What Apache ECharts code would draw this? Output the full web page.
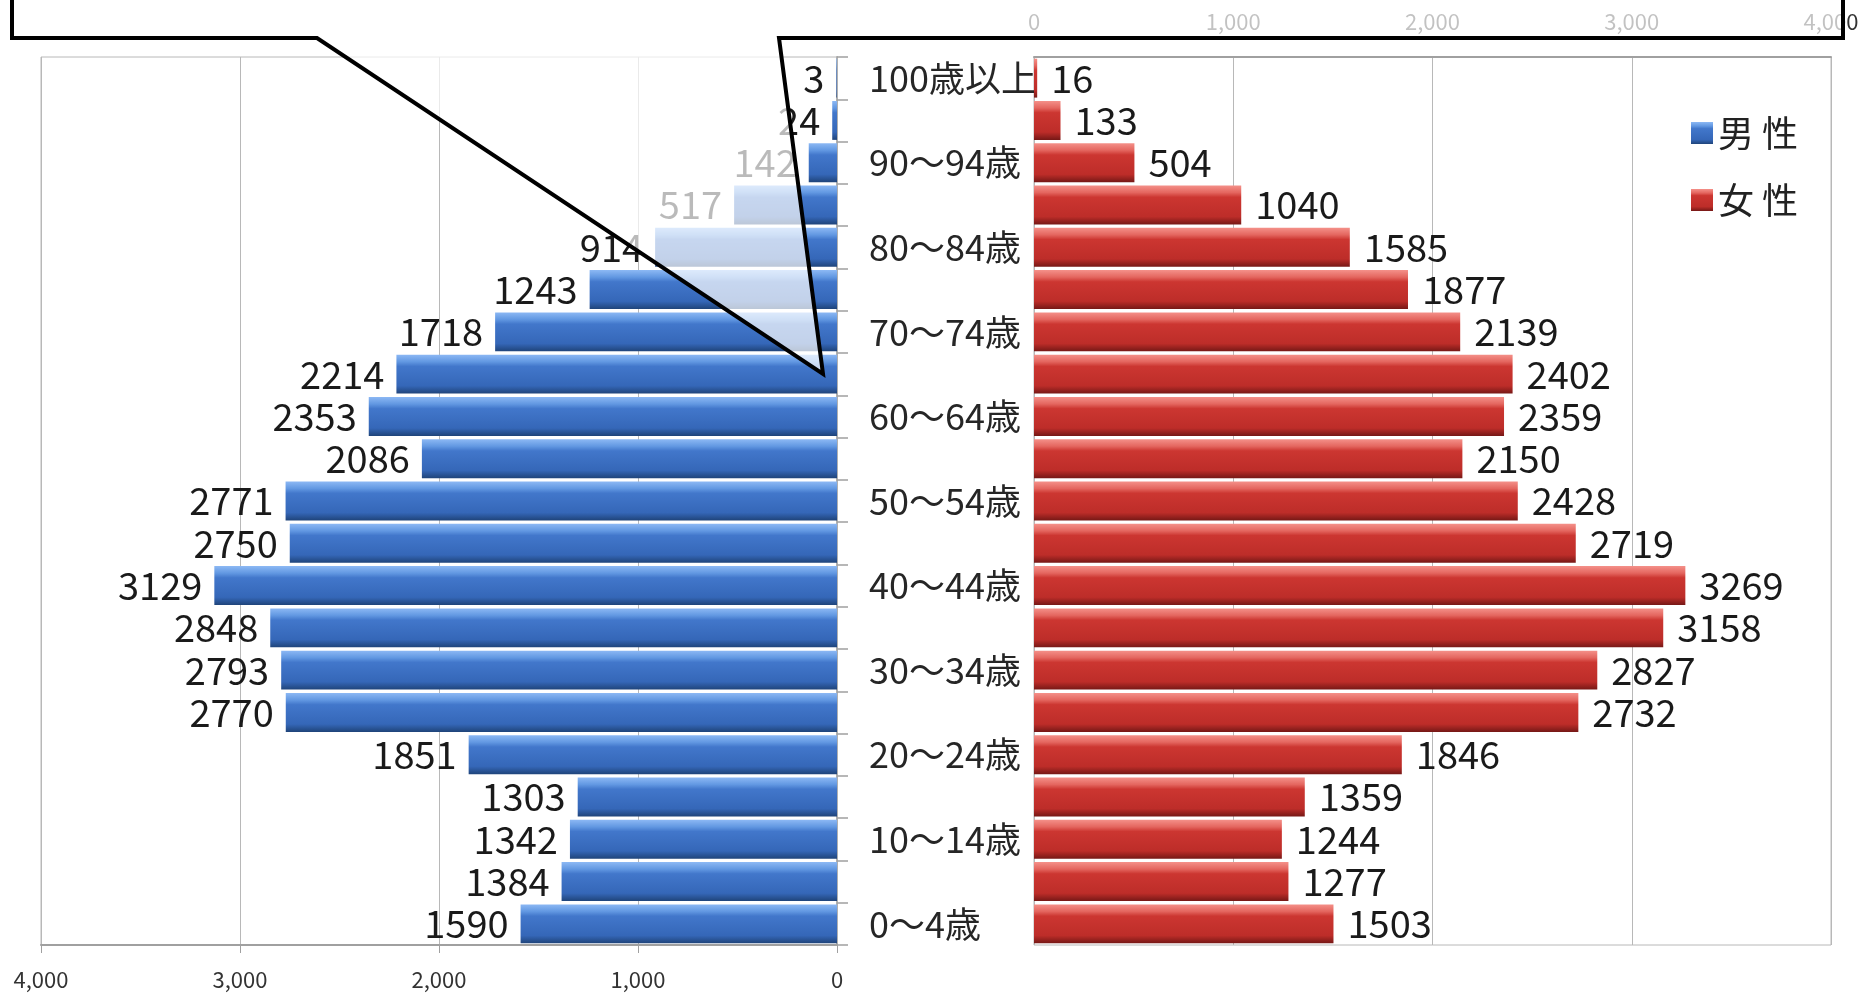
<!DOCTYPE html>
<html>
<head>
<meta charset="utf-8">
<script src="https://cdn.jsdelivr.net/npm/echarts@6/dist/echarts.min.js"></script>
<style>
html,body{margin:0;padding:0;background:#fff;}
#chart{width:1864px;height:993px;}
</style>
</head>
<body>
<div id="chart"></div>
<script>
const categories = ['0～4歳','5～9歳','10～14歳','15～19歳','20～24歳','25～29歳','30～34歳','35～39歳','40～44歳','45～49歳','50～54歳','55～59歳','60～64歳','65～69歳','70～74歳','75～79歳','80～84歳','85～89歳','90～94歳','95～99歳','100歳以上'];
const maleValues = [1590,1384,1342,1303,1851,2770,2793,2848,3129,2750,2771,2086,2353,2214,1718,1243,914,517,142,24,3];
const femaleValues = [1503,1277,1244,1359,1846,2732,2827,3158,3269,2719,2428,2150,2359,2402,2139,1877,1585,1040,504,133,16];
const axisMin = 0, axisMax = 4000, axisStep = 1000;

const FONT = "'Noto Sans CJK JP','Noto Sans',sans-serif";
const chart = echarts.init(document.getElementById('chart'));

const blueGrad = new echarts.graphic.LinearGradient(0,0,0,1,[
  {offset:0,color:'#8cb8f4'},{offset:0.18,color:'#6298e2'},{offset:0.3,color:'#4277cb'},
  {offset:0.8,color:'#3567b8'},{offset:1,color:'#1f447a'}]);
const redGrad = new echarts.graphic.LinearGradient(0,0,0,1,[
  {offset:0,color:'#f49089'},{offset:0.18,color:'#e4665f'},{offset:0.3,color:'#cc3631'},
  {offset:0.8,color:'#bd2d29'},{offset:1,color:'#761816'}]);

const fmt = v => v.toLocaleString('en-US');

chart.setOption({
  animation:false,
  backgroundColor:'#fff',
  textStyle:{fontFamily:FONT},
  legend:{
    orient:'vertical', left:1686, top:110, itemGap:31,
    icon:'rect', itemWidth:22, itemHeight:22,
    data:['男性','女性'],
    formatter: n => n.split('').join(' '),
    textStyle:{fontSize:36, lineHeight:36, color:'#222', fontFamily:FONT}
  },
  grid:[
    {left:41, right:1027, top:57, bottom:48, show:true, borderColor:'#b8b8b8', borderWidth:1},
    {left:1034, right:33, top:57, bottom:48, show:true, borderColor:'#b8b8b8', borderWidth:1}
  ],
  xAxis:[
    {gridIndex:0, type:'value', inverse:true, min:axisMin, max:axisMax, interval:axisStep, position:'bottom',
     axisLine:{show:true, lineStyle:{color:'#a0a0a0', width:2}},
     axisTick:{show:true, length:8, lineStyle:{color:'#a0a0a0'}},
     splitLine:{show:true, lineStyle:{color:'#b8b8b8'}},
     axisLabel:{fontSize:22, color:'#333', margin:24, formatter:fmt, fontFamily:FONT}},
    {gridIndex:1, type:'value', min:axisMin, max:axisMax, interval:axisStep, position:'top',
     axisLine:{show:true, lineStyle:{color:'#a0a0a0', width:2}},
     axisTick:{show:false},
     splitLine:{show:true, lineStyle:{color:'#b8b8b8'}},
     axisLabel:{fontSize:22, color:'#333', margin:24, formatter:fmt, fontFamily:FONT}}
  ],
  yAxis:[
    {gridIndex:0, type:'category', data:categories, position:'right',
     axisLine:{show:true, lineStyle:{color:'#b0b0b0', width:2}},
     axisTick:{show:true, interval:0, length:11, lineStyle:{color:'#a0a0a0', width:1.5}},
     axisLabel:{show:true, interval:1, margin:32, fontSize:36, color:'#262626', fontFamily:FONT}},
    {gridIndex:1, type:'category', data:categories,
     axisLine:{show:false}, axisTick:{show:false}, axisLabel:{show:false}}
  ],
  series:[
    {name:'男性', type:'bar', xAxisIndex:0, yAxisIndex:0, data:maleValues,
     barCategoryGap:'8%',
     itemStyle:{color:blueGrad},
     label:{show:true, position:'left', distance:12, fontSize:38, color:'#1a1a1a', fontFamily:FONT}},
    {name:'女性', type:'bar', xAxisIndex:1, yAxisIndex:1, data:femaleValues,
     barCategoryGap:'8%',
     itemStyle:{color:redGrad},
     label:{show:true, position:'right', distance:14, fontSize:38, color:'#1a1a1a', fontFamily:FONT}}
  ],
  graphic:[
    {type:'polygon', z:100, silent:true,
     shape:{points:[[12,-10],[12,38],[317,38],[823,374],[779,38],[1843,38],[1843,-10]]},
     style:{fill:'rgba(255,255,255,0.7)', stroke:'#000', lineWidth:4, lineJoin:'miter'}}
  ]
});
</script>
</body>
</html>
